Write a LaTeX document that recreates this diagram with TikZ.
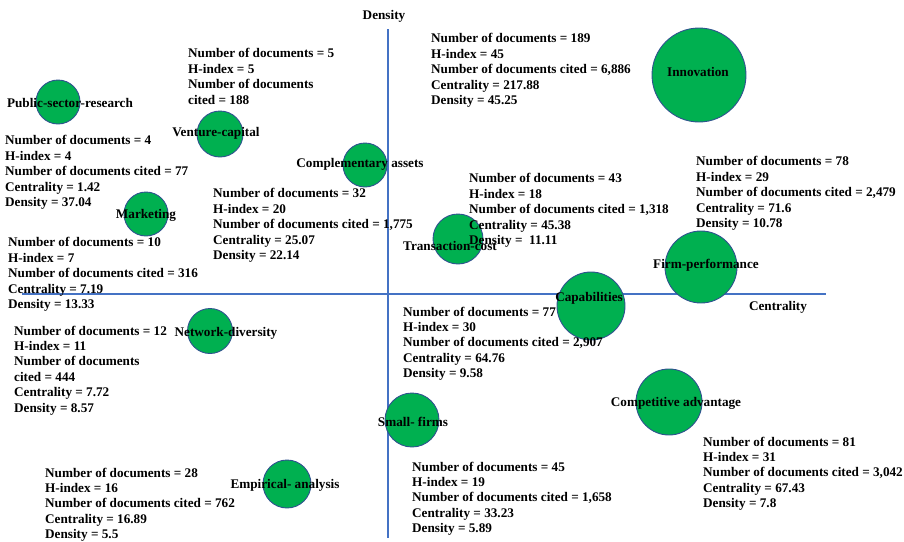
\documentclass[tikz,border=0pt]{standalone}
\usepackage{fontspec}
\setmainfont{Liberation Serif}
\usepackage{xcolor}
\usepackage{tikz}

\definecolor{bubblegreen}{RGB}{0,176,80}
\definecolor{bubbleedge}{RGB}{47,82,143}
\definecolor{axisblue}{RGB}{68,114,196}

\tikzset{
  bubble/.style={circle, draw=bubbleedge, fill=bubblegreen, line width=0.9pt, inner sep=0pt},
  tag/.style={anchor=base, inner sep=0pt, font=\fontsize{13.2}{15.4}\selectfont\bfseries},
  stats/.style={anchor=north west, inner sep=0pt, align=left, font=\fontsize{13.2}{15.4}\selectfont\bfseries},
  axisline/.style={draw=axisblue, line width=1.6pt}
}

\begin{document}
\begin{tikzpicture}[x=1pt,y=1pt,yscale=-1,xscale=1]
    \useasboundingbox (0,0) rectangle (904,541);

    %Straight Lines: axes
    \coordinate (axtop) at (388,29);
    \coordinate (axbottom) at (388,538);
    \coordinate (axleft) at (22,294);
    \coordinate (axright) at (826,294);
    \draw [axisline] (axtop) -- (axbottom);
    \draw [axisline] (axleft) -- (axright);

    %Shape: Circle
    \node [bubble, minimum size=44] (psr) at (58,102) {};
    \node [bubble, minimum size=46] (venture) at (220,134) {};
    \node [bubble, minimum size=44] (complement) at (365,165) {};
    \node [bubble, minimum size=44] (marketing) at (146,214) {};
    \node [bubble, minimum size=94] (innovation) at (699,75) {};
    \node [bubble, minimum size=50] (transaction) at (458,239) {};
    \node [bubble, minimum size=72] (firmperf) at (701,267) {};
    \node [bubble, minimum size=68] (capabilities) at (591,306) {};
    \node [bubble, minimum size=45] (network) at (210,331) {};
    \node [bubble, minimum size=54] (smallfirms) at (412,420) {};
    \node [bubble, minimum size=48] (empirical) at (287,484) {};
    \node [bubble, minimum size=66] (compadv) at (669,402) {};

    % Text Node: cluster names
    \node [tag] (psrname) at (70,107.5) {Public-sector-research};
    \node [tag] (venturename) at (216,136.5) {Venture-capital};
    \node [tag] (complementname) at (360,167.5) {Complementary assets};
    \node [tag] (marketingname) at (146,218.5) {Marketing};
    \node [tag] (innovationname) at (698,76.5) {Innovation};
    \node [tag] (transactionname) at (450,250) {Transaction-cost};
    \node [tag] (firmperfname) at (706,268.5) {Firm-performance};
    \node [tag] (capabilitiesname) at (589,301.5) {Capabilities};
    \node [tag] (networkname) at (226,336.5) {Network-diversity};
    \node [tag] (smallfirmsname) at (413,426.5) {Small- firms};
    \node [tag] (empiricalname) at (285,488.5) {Empirical- analysis};
    \node [tag] (compadvname) at (676,406.5) {Competitive advantage};

    % Text Node: axis titles
    \node [tag] (densitytitle) at (384,19.5) {Density};
    \node [tag] (centralitytitle) at (778,310.5) {Centrality};

    % Text Node: cluster figures
    \node [stats] (venturestats) at (188,48.5) {Number of documents = 5\\H-index = 5\\Number of documents\\cited = 188};
    \node [stats] (psrstats) at (5,135.5) {Number of documents = 4\\H-index = 4\\Number of documents cited = 77\\Centrality = 1.42\\Density = 37.04};
    \node [stats] (complementstats) at (213,188.5) {Number of documents = 32\\H-index = 20\\Number of documents cited = 1,775\\Centrality = 25.07\\Density = 22.14};
    \node [stats] (marketingstats) at (8,237.5) {Number of documents = 10\\H-index = 7\\Number of documents cited = 316\\Centrality = 7.19\\Density = 13.33};
    \node [stats] (innovationstats) at (431,33.5) {Number of documents = 189\\H-index = 45\\Number of documents cited = 6,886\\Centrality = 217.88\\Density = 45.25};
    \node [stats] (transactionstats) at (469,173.5) {Number of documents = 43\\H-index = 18\\Number of documents cited = 1,318\\Centrality = 45.38\\Density =\ \ 11.11};
    \node [stats] (firmperfstats) at (696,156.5) {Number of documents = 78\\H-index = 29\\Number of documents cited = 2,479\\Centrality = 71.6\\Density = 10.78};
    \node [stats] (capabilitiesstats) at (403,306.5) {Number of documents = 77\\H-index = 30\\Number of documents cited = 2,907\\Centrality = 64.76\\Density = 9.58};
    \node [stats] (networkstats) at (14,325.5) {Number of documents = 12\\H-index = 11\\Number of documents\\cited = 444\\Centrality = 7.72\\Density = 8.57};
    \node [stats] (empiricalstats) at (45,467.5) {Number of documents = 28\\H-index = 16\\Number of documents cited = 762\\Centrality = 16.89\\Density = 5.5};
    \node [stats] (smallfirmsstats) at (412,461.5) {Number of documents = 45\\H-index = 19\\Number of documents cited = 1,658\\Centrality = 33.23\\Density = 5.89};
    \node [stats] (compadvstats) at (703,436.5) {Number of documents = 81\\H-index = 31\\Number of documents cited = 3,042\\Centrality = 67.43\\Density = 7.8};

\end{tikzpicture}
\end{document}
